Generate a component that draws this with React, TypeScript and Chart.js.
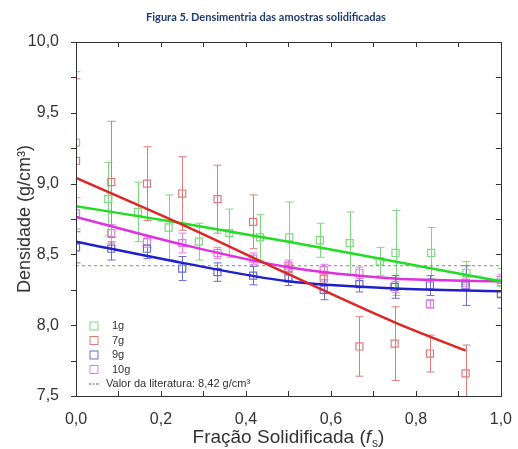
import React, { useEffect, useRef } from 'react';
import { Chart, registerables } from 'chart.js';
Chart.register(...registerables);

// ---- data ----
const fracX12 = [0, 0.083, 0.167, 0.25, 0.333, 0.417, 0.5, 0.583, 0.667, 0.75, 0.833, 0.917, 1.0];

const g1X = [0, 0.076, 0.146, 0.218, 0.289, 0.361, 0.433, 0.502, 0.574, 0.644, 0.715, 0.752, 0.836, 0.919, 1.0];
const g1Y = [9.29, 8.89, 8.80, 8.69, 8.59, 8.65, 8.62, 8.62, 8.60, 8.58, 8.45, 8.51, 8.51, 8.37, 8.30];
const g1Err = [0.5, 0.26, 0.21, 0.23, 0.13, 0.17, 0.16, 0.25, 0.12, 0.22, 0.1, 0.3, 0.18, 0.08, 0.1];

const g7Y = [9.16, 9.01, 9.00, 8.93, 8.89, 8.73, 8.40, 8.33, 7.85, 7.87, 7.80, 7.66];
const g7Err = [0.58, 0.43, 0.26, 0.26, 0.24, 0.19, 0.04, 0.05, 0.21, 0.26, 0.13, 0.2];

const g9Y = [8.55, 8.54, 8.54, 8.40, 8.375, 8.35, 8.33, 8.25, 8.29, 8.27, 8.28, 8.28, 8.22];
const g9Err = [0.11, 0.08, 0.07, 0.085, 0.065, 0.065, 0.05, 0.07, 0.055, 0.08, 0.07, 0.14, 0.1];

const g10Y = [8.79, 8.65, 8.59, 8.58, 8.51, 8.47, 8.42, 8.39, 8.37, 8.27, 8.15, 8.30, 8.32];
const g10Err = [0.11, 0.06, 0.04, 0.07, 0.04, 0.04, 0.04, 0.04, 0.04, 0.04, 0.03, 0.04, 0.04];

// fitted curves, read at a few positions
const fitX = [0, 0.25, 0.5, 0.75, 1.0];
const fit1 = [8.84, 8.72, 8.59, 8.45, 8.31];
const fit7X = [0, 0.25, 0.5, 0.75, 0.917];
const fit7 = [9.04, 8.71, 8.36, 8.02, 7.82];
const fit9 = [8.59, 8.44, 8.31, 8.26, 8.24];
const fit10 = [8.765, 8.57, 8.41, 8.33, 8.31];

const litValue = 8.42;
const xTicksLabelEvery = 0.2;

const legendLabels = ['1g', '7g', '9g', '10g'];
const legendRef = 'Valor da literatura: 8,42 g/cm³';
const titleText = 'Figura 5. Densimentria das amostras solidificadas';
const yTitle = 'Densidade (g/cm³)';
const xTitle = 'Fração Solidificada (';

const markerColors = ['#7fd87f', '#e07b7b', '#6c6cd6', '#e47ce8'];
const lineColors = ['#22dd22', '#dd2626', '#2020c8', '#e030e0'];

const pts = (xs: number[], ys: number[]) => ys.map((v, i) => ({ x: xs[i], y: v }));

const errorBarPlugin = {
  id: 'errorBars',
  beforeDatasetsDraw(chart: any) {
    const { ctx, chartArea: a } = chart;
    const xs = chart.scales.x, ys = chart.scales.y;
    ctx.save();
    ctx.beginPath();
    ctx.rect(a.left, a.top, a.right - a.left, a.bottom - a.top);
    ctx.clip();
    ctx.lineWidth = 1;
    chart.data.datasets.forEach((ds: any) => {
      if (!ds.errors) return;
      ctx.strokeStyle = ds.borderColor;
      ds.data.forEach((p: any, j: number) => {
        const e = ds.errors[j];
        const px = Math.round(xs.getPixelForValue(p.x)) + 0.5;
        const yt = ys.getPixelForValue(p.y + e);
        const yb = ys.getPixelForValue(p.y - e);
        ctx.beginPath();
        ctx.moveTo(px, yt); ctx.lineTo(px, yb);
        ctx.moveTo(px - 4, yt); ctx.lineTo(px + 4, yt);
        ctx.moveTo(px - 4, yb); ctx.lineTo(px + 4, yb);
        ctx.stroke();
      });
    });
    ctx.restore();
  },
};

const framePlugin = {
  id: 'frameAndLegend',
  afterDatasetsDraw(chart: any) {
    const { ctx, chartArea: a } = chart;
    const xs = chart.scales.x, ys = chart.scales.y;
    ctx.save();
    ctx.strokeStyle = '#333';
    ctx.lineWidth = 1;
    ctx.strokeRect(Math.round(a.left) + 0.5, Math.round(a.top) + 0.5, Math.round(a.right - a.left), Math.round(a.bottom - a.top));
    ctx.beginPath();
    xs.ticks.forEach((t: any) => {
      const px = Math.round(xs.getPixelForValue(t.value)) + 0.5;
      ctx.moveTo(px, a.bottom); ctx.lineTo(px, a.bottom - 5);
      ctx.moveTo(px, a.top); ctx.lineTo(px, a.top + 5);
    });
    ys.ticks.forEach((t: any) => {
      const py = Math.round(ys.getPixelForValue(t.value)) + 0.5;
      ctx.moveTo(a.left, py); ctx.lineTo(a.left - 5, py);
      ctx.moveTo(a.right, py); ctx.lineTo(a.right - 5, py);
    });
    ctx.stroke();

    // legend
    const lx = a.left + 18, ly0 = a.bottom - 70;
    ctx.font = '11px "Liberation Sans", Arial, sans-serif';
    ctx.textBaseline = 'middle';
    ctx.textAlign = 'left';
    legendLabels.forEach((lab, i) => {
      const y = ly0 + i * 14.5;
      ctx.strokeStyle = markerColors[i];
      ctx.strokeRect(lx - 4, y - 4, 8, 8);
      ctx.fillStyle = '#333';
      ctx.fillText(lab, lx + 18, y);
    });
    const yr = ly0 + 4 * 14.5;
    ctx.strokeStyle = '#555';
    ctx.setLineDash([2, 1.5]);
    ctx.beginPath();
    ctx.moveTo(lx - 5, yr); ctx.lineTo(lx + 6, yr);
    ctx.stroke();
    ctx.setLineDash([]);
    ctx.fillStyle = '#333';
    ctx.fillText(legendRef, lx + 12, yr);
    ctx.restore();
  },
  afterDraw(chart: any) {
    const { ctx, chartArea: a } = chart;
    ctx.save();
    ctx.fillStyle = '#1f3c73';
    ctx.font = 'bold 11px Lato, "DejaVu Sans", sans-serif';
    ctx.textAlign = 'center';
    ctx.textBaseline = 'middle';
    ctx.fillText(titleText, 266, 17);

    // x title with italic f and subscript
    ctx.fillStyle = '#333';
    ctx.textAlign = 'left';
    ctx.textBaseline = 'alphabetic';
    const base = '19px "Liberation Sans", Arial, sans-serif';
    const ital = 'italic 19px "Liberation Sans", Arial, sans-serif';
    const sub = '12px "Liberation Sans", Arial, sans-serif';
    ctx.font = base; const w1 = ctx.measureText(xTitle).width;
    ctx.font = ital; const w2 = ctx.measureText('f').width;
    ctx.font = sub; const w3 = ctx.measureText('s').width;
    ctx.font = base; const w4 = ctx.measureText(')').width;
    const total = w1 + w2 + w3 + w4 + 1;
    let x0 = (a.left + a.right) / 2 - total / 2;
    const by = 443;
    ctx.font = base; ctx.fillText(xTitle, x0, by); x0 += w1;
    ctx.font = ital; ctx.fillText('f', x0, by); x0 += w2 + 1;
    ctx.font = sub; ctx.fillText('s', x0, by + 4); x0 += w3;
    ctx.font = base; ctx.fillText(')', x0, by);
    ctx.restore();
  },
};

const fmt = (v: number) => v.toFixed(1).replace('.', ',');

export default function App() {
  const ref = useRef<HTMLCanvasElement>(null);
  useEffect(() => {
    document.body.style.margin = '0';
    const lineDs = (label: string, xs: number[], ys: number[], color: string) => ({
      type: 'line' as const,
      label,
      data: pts(xs, ys),
      borderColor: color,
      backgroundColor: color,
      borderWidth: 2.5,
      pointRadius: 0,
      showLine: true,
      fill: false,
      cubicInterpolationMode: 'monotone' as const,
    });
    const markDs = (label: string, xs: number[], ys: number[], errs: number[], color: string) => ({
      type: 'scatter' as const,
      label,
      data: pts(xs, ys),
      errors: errs,
      borderColor: color,
      backgroundColor: 'rgba(0,0,0,0)',
      pointStyle: 'rect',
      pointRadius: 5,
      pointBorderWidth: 1.2,
      showLine: false,
    });
    const chart = new Chart(ref.current!, {
      type: 'scatter',
      data: {
        datasets: [
          lineDs('fit 7g', fit7X, fit7, lineColors[1]),
          lineDs('fit 1g', fitX, fit1, lineColors[0]),
          lineDs('fit 10g', fitX, fit10, lineColors[3]),
          lineDs('fit 9g', fitX, fit9, lineColors[2]),
          {
            type: 'line',
            label: 'lit',
            data: [{ x: 0, y: litValue }, { x: 1, y: litValue }],
            borderColor: '#888',
            borderWidth: 1,
            borderDash: [3, 3],
            pointRadius: 0,
            showLine: true,
            fill: false,
          } as any,
          markDs('1g', g1X, g1Y, g1Err, markerColors[0]),
          markDs('7g', fracX12.slice(0, 12), g7Y, g7Err, markerColors[1]),
          markDs('9g', fracX12, g9Y, g9Err, markerColors[2]),
          markDs('10g', fracX12, g10Y, g10Err, markerColors[3]),
        ] as any,
      },
      options: {
        animation: false,
        responsive: true,
        maintainAspectRatio: false,
        layout: { padding: { top: 42, right: 10, left: 0, bottom: 0 } },
        plugins: { legend: { display: false }, tooltip: { enabled: false }, title: { display: false } },
        scales: {
          x: {
            type: 'linear',
            min: 0,
            max: 1,
            grid: { display: false },
            border: { display: false },
            ticks: {
              stepSize: 0.1,
              autoSkip: false,
              maxRotation: 0,
              padding: 6,
              color: '#333',
              font: { size: 16, family: '"Liberation Sans", Arial, sans-serif' },
              callback: (v: any) => (Math.round(Number(v) * 10) % Math.round(xTicksLabelEvery * 10) === 0 ? fmt(Number(v)) : ''),
            },
            afterFit: (s: any) => { s.height = 53; },
          },
          y: {
            type: 'linear',
            min: 7.5,
            max: 10,
            grid: { display: false },
            border: { display: false },
            title: {
              display: true,
              text: yTitle,
              color: '#333',
              font: { size: 18, family: '"Liberation Sans", Arial, sans-serif' },
              padding: { top: 14, bottom: 0 },
            },
            ticks: {
              stepSize: 0.25,
              autoSkip: false,
              padding: 9,
              color: '#333',
              font: { size: 16, family: '"Liberation Sans", Arial, sans-serif' },
              callback: (v: any) => (Math.round(Number(v) * 4) % 2 === 0 ? fmt(Number(v)) : ''),
            },
            afterFit: (s: any) => { s.width = 76; },
          },
        },
      } as any,
      plugins: [errorBarPlugin, framePlugin],
    });
    return () => chart.destroy();
  }, []);
  return (
    <div style={{ position: 'absolute', left: 0, top: 0, width: 518, height: 449 }}>
      <canvas ref={ref} />
    </div>
  );
}
